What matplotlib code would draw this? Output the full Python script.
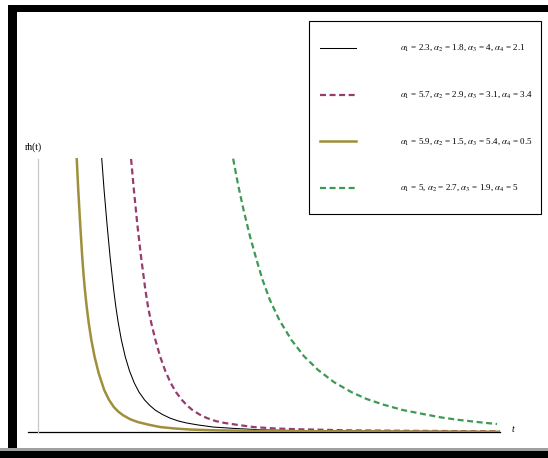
import matplotlib
matplotlib.use("Agg")
import matplotlib.pyplot as plt
from matplotlib.patches import Rectangle
from matplotlib.lines import Line2D

plt.rcParams['font.family'] = ['Liberation Serif', 'DejaVu Serif']
plt.rcParams['mathtext.fontset'] = 'stix'

W, H = 548, 458

# reversed hazard rate rh(t) for four parameter sets
t_a = [0.818, 0.838, 0.872, 0.911, 0.955, 0.987, 1.016, 1.055, 1.098, 1.155,
       1.226, 1.313, 1.434, 1.538, 1.642, 1.735, 1.834, 1.990, 2.166, 2.412,
       2.650, 2.944, 3.290, 3.874, 4.654, 6.753, 10.0]
rh_a = [10.66, 10.00, 8.83, 7.66, 6.46, 5.73, 5.18, 4.56, 3.98, 3.36,
        2.74, 2.15, 1.53, 1.17, 0.91, 0.75, 0.62, 0.47, 0.36, 0.26,
        0.18, 0.13, 0.09, 0.06, 0.04, 0.02, 0.01]

t_b = [1.350, 1.379, 1.431, 1.496, 1.563, 1.639, 1.686, 1.738, 1.805, 1.890,
       1.981, 2.084, 2.186, 2.307, 2.420, 2.537, 2.693, 2.853, 3.041, 3.214,
       3.452, 3.799, 4.253, 4.816, 5.671, 7.835, 10.0]
rh_b = [10.66, 10.00, 8.83, 7.55, 6.35, 5.18, 4.56, 3.98, 3.36, 2.74,
        2.23, 1.79, 1.46, 1.17, 0.97, 0.80, 0.64, 0.51, 0.40, 0.33,
        0.26, 0.18, 0.13, 0.08, 0.05, 0.03, 0.015]

t_c = [1.978, 2.013, 2.076, 2.152, 2.234, 2.325, 2.383, 2.452, 2.541, 2.647,
       2.755, 2.872, 2.985, 3.115, 3.227, 3.344, 3.496, 3.656, 3.844, 4.039,
       4.320, 4.667, 5.121, 5.641, 6.753, 8.268, 10.0]
rh_c = [10.66, 10.00, 8.83, 7.55, 6.35, 5.18, 4.56, 3.98, 3.36, 2.74,
        2.23, 1.79, 1.46, 1.17, 0.97, 0.80, 0.64, 0.51, 0.40, 0.33,
        0.26, 0.18, 0.13, 0.10, 0.06, 0.04, 0.025]

t_d = [4.147, 4.221, 4.333, 4.450, 4.587, 4.732, 4.861, 5.019, 5.223, 5.485,
       5.755, 6.065, 6.407, 6.779, 7.119, 7.494, 7.900, 8.323, 8.734, 9.113,
       9.589, 9.935]
rh_d = [10.66, 10.00, 9.01, 8.10, 7.15, 6.28, 5.55, 4.82, 4.09, 3.36,
        2.77, 2.26, 1.82, 1.46, 1.20, 0.99, 0.80, 0.66, 0.53, 0.44,
        0.35, 0.29]

labels = [r"$\alpha_1$ = 2.3, $\alpha_2$ = 1.8, $\alpha_3$ = 4, $\alpha_4$ = 2.1",
          r"$\alpha_1$ = 5.7, $\alpha_2$ = 2.9, $\alpha_3$ = 3.1, $\alpha_4$ = 3.4",
          r"$\alpha_1$ = 5.9, $\alpha_2$ = 1.5, $\alpha_3$ = 5.4, $\alpha_4$ = 0.5",
          r"$\alpha_1$ = 5, $\alpha_2$ = 2.7, $\alpha_3$ = 1.9, $\alpha_4$ = 5"]

styles = [dict(color='black', lw=0.75, ls='-'),
          dict(color='#973c70', lw=1.6, ls=(0, (2.7, 1.6))),
          dict(color='#a08f3a', lw=1.8, ls='-'),
          dict(color='#3c9a55', lw=1.6, ls=(0, (2.7, 1.6)))]
series = [(t_b, rh_b), (t_c, rh_c), (t_a, rh_a), (t_d, rh_d)]


def fx(px):
    return px / W


def fy(py):
    return 1 - py / H


fig = plt.figure(figsize=(W / 100, H / 100), dpi=100)

# heavy frame around the figure
fig.add_artist(Rectangle((fx(8), 0), fx(9), fy(5), color='black', lw=0))
fig.add_artist(Rectangle((fx(8), fy(12)), 1, 7 / H, color='black', lw=0))
fig.add_artist(Rectangle((0, 0), 1, 7 / H, color='black', lw=0))
fig.add_artist(Rectangle((0, 7 / H), 1, 3 / H, color='#a0a0a0', lw=0))

ax = fig.add_axes([fx(28), fy(432), fx(500 - 28), (432 - 158) / H])
ax.set_xlim(-0.216, 10)
ax.set_ylim(0, 10)
ax.axis('off')

ax.plot([-0.216, 10], [0, 0], color='black', lw=0.9, clip_on=False, zorder=1)
ax.plot([0, 0], [0, 9.95], color='#c8c8c8', lw=0.9, clip_on=False, zorder=1)

for (tt, rr), st in zip(series, styles):
    ax.plot(tt, rr, zorder=3, solid_joinstyle='round', **st)

ax.text(-0.28, 10.4, "rh(t)", fontsize=7, ha='left', va='center', clip_on=False)
ax.text(10.26, 0.08, "t", fontsize=7, style='italic', ha='left',
        va='center', clip_on=False)

# legend box
fig.add_artist(Rectangle((fx(309), fy(214)), fx(541 - 309), (214 - 21) / H,
                         facecolor='white', edgecolor='black', lw=0.8, zorder=5))
for row, (lab, st) in enumerate(zip(labels, styles)):
    yy = fy(48 + row * 46.7)
    fig.add_artist(Line2D([fx(320), fx(356)], [yy, yy], zorder=6, **st))
    fig.text(fx(400), yy, lab, fontsize=6.5, ha='left', va='center', zorder=6)

fig.savefig("out.png", dpi=100)
